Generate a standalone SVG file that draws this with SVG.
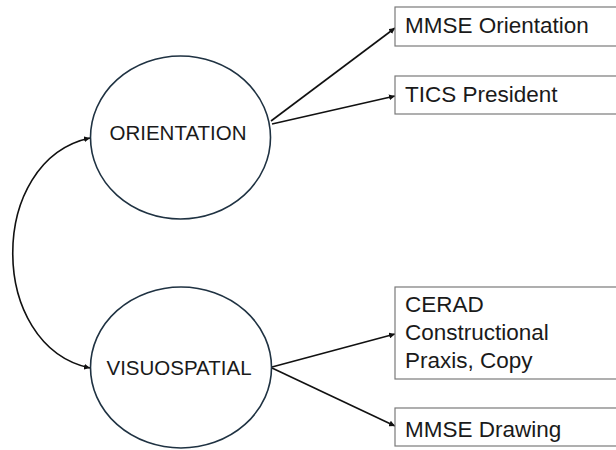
<svg xmlns="http://www.w3.org/2000/svg" width="616" height="450" viewBox="0 0 616 450">
<defs>
<marker id="ah" viewBox="0 0 10 10" refX="10" refY="5" markerWidth="6" markerHeight="6" markerUnits="userSpaceOnUse" orient="auto">
<path d="M0,0 L10,5 L0,10 z" fill="#111"/>
</marker>
<marker id="ahs" viewBox="0 0 10 10" refX="0" refY="5" markerWidth="6" markerHeight="6" markerUnits="userSpaceOnUse" orient="auto">
<path d="M10,0 L0,5 L10,10 z" fill="#111"/>
</marker>
<style>
.lat{fill:#fff;stroke:#1f3242;stroke-width:1.6}
.box{fill:#fff;stroke:#7a7a7a;stroke-width:1.2}
.lt{font-family:"Liberation Sans",Arial,sans-serif;font-size:20.5px;fill:#1a1a1a;text-anchor:middle}
.bt{font-family:"Liberation Sans",Arial,sans-serif;font-size:22.5px;fill:#1a1a1a}
.c{fill:none;stroke:#111;stroke-width:1.6;marker-end:url(#ah)}
.b{marker-start:url(#ahs)}
</style>
</defs>
<rect width="616" height="450" fill="#fff"/>
<g id="connectors">
<path class="c" d="M271,121 L395,28"/>
<path class="c" d="M272,124 L395,96"/>
<path class="c" d="M272,367 L395,334"/>
<path class="c" d="M272,368 L395,426"/>
<path class="c b" d="M90,138 C-13,160 -13,346 90,368"/>
</g>
<g id="orientation">
<ellipse class="lat" cx="180.5" cy="137.5" rx="90" ry="81.5"/>
<text class="lt" x="178" y="140">ORIENTATION</text>
</g>
<g id="visuospatial">
<ellipse class="lat" cx="181" cy="367.5" rx="90.5" ry="80.5"/>
<text class="lt" x="179" y="375">VISUOSPATIAL</text>
</g>
<g id="mmse-orientation">
<rect class="box" x="395" y="7" width="240" height="39"/>
<text class="bt" x="405" y="33">MMSE Orientation</text>
</g>
<g id="tics-president">
<rect class="box" x="395" y="76" width="240" height="38"/>
<text class="bt" x="405" y="102">TICS President</text>
</g>
<g id="cerad">
<rect class="box" x="395" y="287" width="240" height="92"/>
<text class="bt" x="405" y="312">CERAD</text>
<text class="bt" x="405" y="340">Constructional</text>
<text class="bt" x="405" y="368">Praxis, Copy</text>
</g>
<g id="mmse-drawing">
<rect class="box" x="395" y="408" width="240" height="38"/>
<text class="bt" x="405" y="437">MMSE Drawing</text>
</g>
</svg>
